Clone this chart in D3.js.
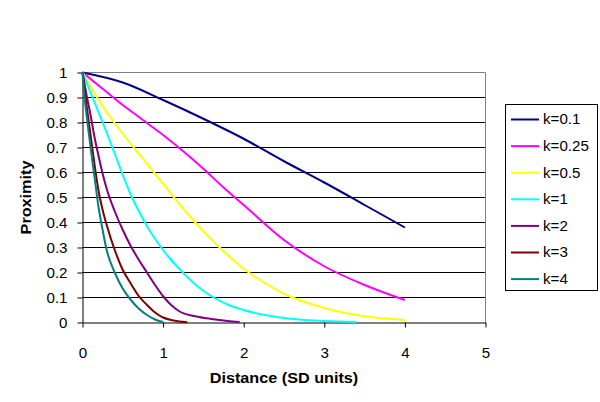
<!DOCTYPE html>
<html>
<head>
<meta charset="utf-8">
<script src="https://cdn.jsdelivr.net/npm/d3@7"></script>
<style>
  body { margin: 0; background: #fff; }
  svg { display: block; font-family: Arial, "Liberation Sans", sans-serif; }
</style>
</head>
<body>
<svg width="600" height="402"></svg>
<script>
// values
const kLabels = ['k=0.1', 'k=0.25', 'k=0.5', 'k=1', 'k=2', 'k=3', 'k=4'];
const colors = ['#000080', '#ff00ff', '#ffff00', '#00ffff', '#800080', '#800000', '#008080'];

const dist01 = [0, 0.5, 1, 1.5, 2, 2.5, 3, 3.5, 4];
const prox01 = [1, 0.96, 0.89, 0.815, 0.735, 0.645, 0.56, 0.47, 0.38];

const dist025 = [0, 0.25, 0.5, 0.75, 1, 1.25, 1.5, 1.75, 2, 2.5, 3, 3.5, 4];
const prox025 = [1, 0.935, 0.87, 0.81, 0.75, 0.685, 0.615, 0.54, 0.47, 0.33, 0.225, 0.15, 0.09];

const dist05 = [0, 0.25, 0.5, 0.75, 1, 1.25, 1.5, 1.75, 2, 2.25, 2.5, 3, 3.5, 4];
const prox05 = [1, 0.865, 0.755, 0.655, 0.555, 0.455, 0.365, 0.285, 0.215, 0.16, 0.115, 0.058, 0.025, 0.01];

const dist1 = [0, 0.1, 0.2, 0.3, 0.4, 0.5, 0.6, 0.7, 0.8, 0.9, 1, 1.1, 1.2, 1.4, 1.6, 1.8, 2, 2.5, 3, 3.4];
const prox1 = [1, 0.92, 0.84, 0.76, 0.675, 0.59, 0.51, 0.445, 0.385, 0.335, 0.29, 0.25, 0.215, 0.152, 0.105, 0.072, 0.05, 0.018, 0.006, 0.002];

const dist2 = [0, 0.05, 0.1, 0.15, 0.2, 0.25, 0.3, 0.4, 0.5, 0.6, 0.7, 0.8, 0.9, 1, 1.1, 1.2, 1.4, 1.6, 1.8, 1.95];
const prox2 = [1, 0.91, 0.83, 0.74, 0.665, 0.595, 0.535, 0.445, 0.37, 0.305, 0.25, 0.2, 0.15, 0.105, 0.07, 0.045, 0.025, 0.014, 0.006, 0.002];

const dist3 = [0, 0.05, 0.1, 0.15, 0.2, 0.25, 0.3, 0.4, 0.5, 0.6, 0.7, 0.8, 0.9, 1, 1.1, 1.2, 1.3];
const prox3 = [1, 0.87, 0.75, 0.63, 0.525, 0.45, 0.39, 0.29, 0.21, 0.155, 0.105, 0.07, 0.04, 0.02, 0.01, 0.004, 0.001];

const dist4 = [0, 0.025, 0.05, 0.1, 0.15, 0.2, 0.25, 0.3, 0.4, 0.5, 0.6, 0.7, 0.8, 0.9, 1];
const prox4 = [1, 0.9, 0.83, 0.7, 0.58, 0.46, 0.37, 0.29, 0.2, 0.135, 0.09, 0.055, 0.03, 0.012, 0.002];

const xTicks = [0, 1, 2, 3, 4, 5];
const yTicks = [0, 0.1, 0.2, 0.3, 0.4, 0.5, 0.6, 0.7, 0.8, 0.9, 1];

const dists = [dist01, dist025, dist05, dist1, dist2, dist3, dist4];
const proxs = [prox01, prox025, prox05, prox1, prox2, prox3, prox4];

(function () {
  var svg = d3.select("svg");
  var plotLeft = 82.5, plotRight = 485.5, plotTop = 72.5, plotBottom = 322.5;
  var stretch = 1.08; // reference glyphs run a bit wider than Arial

  var x = d3.scaleLinear().domain([0, 5]).range([plotLeft, plotRight]);
  var y = d3.scaleLinear().domain([0, 1]).range([plotBottom, plotTop]);

  // gridlines
  svg.append("g").selectAll("line")
      .data(yTicks.filter(function(d) { return d > 0 && d < 1; }))
      .enter().append("line")
      .attr("x1", plotLeft).attr("x2", plotRight)
      .attr("y1", function(d) { return y(d); })
      .attr("y2", function(d) { return y(d); })
      .attr("stroke", "#000").attr("stroke-width", 1);

  // plot border, top and right in grey
  svg.append("path")
      .attr("d", "M" + plotLeft + "," + plotTop + "H" + plotRight + "V" + plotBottom)
      .attr("fill", "none").attr("stroke", "#808080").attr("stroke-width", 1);

  // axes
  var xAxis = svg.append("g").attr("transform", "translate(0," + plotBottom + ")")
      .call(d3.axisBottom(x).tickValues(xTicks).tickSize(5).tickSizeOuter(0).tickFormat(d3.format("d")));
  var yAxis = svg.append("g").attr("transform", "translate(" + plotLeft + ",0)")
      .call(d3.axisLeft(y).tickValues(yTicks).tickSize(5).tickSizeOuter(0)
        .tickFormat(function(d) { return d === 0 || d === 1 ? String(d) : d3.format(".1f")(d); }));

  [xAxis, yAxis].forEach(function(ax) {
    ax.select(".domain").attr("stroke", "#000");
    ax.selectAll(".tick line").attr("stroke", "#000");
    ax.selectAll("text").attr("font-size", 14).attr("fill", "#000")
        .attr("font-family", "Arial, 'Liberation Sans', sans-serif");
  });

  xAxis.selectAll(".tick text")
      .attr("y", 0).attr("dy", 0)
      .attr("transform", "translate(0,35.5) scale(" + stretch + ",1)");
  yAxis.selectAll(".tick text")
      .attr("x", 0).attr("dy", "0.35em")
      .attr("transform", "translate(-15,0) scale(" + stretch + ",1)");

  // series
  var line = d3.line()
      .x(function(d) { return x(d[0]); })
      .y(function(d) { return y(d[1]); })
      .curve(d3.curveMonotoneX);

  kLabels.forEach(function(k, i) {
    var pts = dists[i].map(function(d, j) { return [d, proxs[i][j]]; });
    svg.append("path")
        .datum(pts)
        .attr("d", line)
        .attr("fill", "none")
        .attr("stroke", colors[i])
        .attr("stroke-width", 2)
        .attr("stroke-linejoin", "round");
  });

  // axis titles
  svg.append("text")
      .attr("transform", "translate(" + ((plotLeft + plotRight) / 2) + ",383) scale(" + stretch + ",1)")
      .attr("text-anchor", "middle")
      .attr("font-size", 15).attr("font-weight", "bold")
      .text("Distance (SD units)");

  svg.append("text")
      .attr("transform", "translate(31," + ((plotTop + plotBottom) / 2) + ") rotate(-90) scale(" + stretch + ",1)")
      .attr("text-anchor", "middle")
      .attr("font-size", 15).attr("font-weight", "bold")
      .text("Proximity");

  // legend
  var legend = svg.append("g");
  legend.append("rect")
      .attr("x", 505.5).attr("y", 104.5).attr("width", 92).attr("height", 186)
      .attr("fill", "#fff").attr("stroke", "#000").attr("stroke-width", 1);

  var rows = legend.selectAll("g.row")
      .data(kLabels)
      .enter().append("g")
      .attr("class", "row")
      .attr("transform", function(d, i) { return "translate(0," + (119.5 + i * 26.6) + ")"; });

  rows.append("line")
      .attr("x1", 511).attr("x2", 539)
      .attr("stroke", function(d, i) { return colors[i]; })
      .attr("stroke-width", 2);

  rows.append("text")
      .attr("transform", "translate(543,0) scale(" + stretch + ",1)")
      .attr("dy", "0.35em")
      .attr("font-size", 14)
      .text(function(d) { return d; });
})();
</script>
</body>
</html>
